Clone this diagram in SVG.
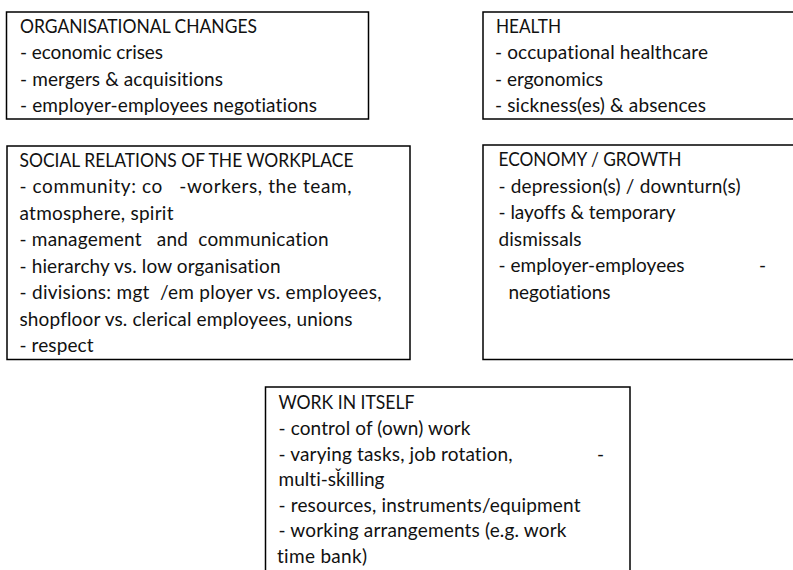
<svg xmlns="http://www.w3.org/2000/svg" width="793" height="570" viewBox="0 0 793 570">
  <style>
    .box { fill: #ffffff; stroke: #000000; stroke-width: 1.5; }
    text { font-family: Lato, "Liberation Sans", Arial, sans-serif; font-size: 19px; fill: #111111; white-space: pre; font-variant-ligatures: none; font-feature-settings: "liga" 0, "clig" 0; }
  </style>
  <rect x="0" y="0" width="793" height="570" fill="#ffffff"/>

  <!-- Organisational changes -->
  <g id="organisational-changes">
    <rect class="box" x="6.5" y="12" width="362" height="107"/>
    <text x="20" y="32.5" textLength="237" lengthAdjust="spacingAndGlyphs">ORGANISATIONAL CHANGES</text>
    <text x="20" y="59" textLength="143" lengthAdjust="spacing">- economic crises</text>
    <text x="20" y="85.5" textLength="203" lengthAdjust="spacing">- mergers &amp; acquisitions</text>
    <text x="20" y="112" textLength="297" lengthAdjust="spacing">- employer-employees negotiations</text>
  </g>

  <!-- Health -->
  <g id="health">
    <rect class="box" x="483" y="12" width="330" height="107"/>
    <text x="496" y="32.5" textLength="65" lengthAdjust="spacingAndGlyphs">HEALTH</text>
    <text x="495" y="59" textLength="213" lengthAdjust="spacing">- occupational healthcare</text>
    <text x="495" y="85.5" textLength="108" lengthAdjust="spacing">- ergonomics</text>
    <text x="495" y="112" textLength="211" lengthAdjust="spacing">- sickness(es) &amp; absences</text>
  </g>

  <!-- Social relations of the workplace -->
  <g id="social-relations">
    <rect class="box" x="7" y="146" width="403" height="213.5"/>
    <text x="19.5" y="166.5" textLength="334" lengthAdjust="spacingAndGlyphs">SOCIAL RELATIONS OF THE WORKPLACE</text>
    <text x="19.5" y="193" textLength="332" lengthAdjust="spacing">- community: co   -workers, the team,</text>
    <text x="19.5" y="219.5" textLength="154" lengthAdjust="spacing">atmosphere, spirit</text>
    <text x="19.5" y="246" textLength="309" lengthAdjust="spacing">- management   and  communication</text>
    <text x="19.5" y="272.5" textLength="261" lengthAdjust="spacing">- hierarchy vs. low organisation</text>
    <text x="19.5" y="299" textLength="362" lengthAdjust="spacing">- divisions: mgt  /em ployer vs. employees,</text>
    <text x="19.5" y="325.5" textLength="333" lengthAdjust="spacing">shopfloor vs. clerical employees, unions</text>
    <text x="19.5" y="352" textLength="74" lengthAdjust="spacing">- respect</text>
  </g>

  <!-- Economy / growth -->
  <g id="economy-growth">
    <rect class="box" x="483" y="145" width="330" height="214.5"/>
    <text x="498.5" y="166" textLength="183" lengthAdjust="spacingAndGlyphs">ECONOMY / GROWTH</text>
    <text x="498.5" y="192.5" textLength="242" lengthAdjust="spacing">- depression(s) / downturn(s)</text>
    <text x="498.5" y="219" textLength="177" lengthAdjust="spacing">- layoffs &amp; temporary</text>
    <text x="498.5" y="245.5" textLength="83" lengthAdjust="spacing">dismissals</text>
    <text x="498.5" y="272" textLength="186" lengthAdjust="spacing">- employer-employees</text>
    <text x="759" y="272">-</text>
    <text x="508.5" y="298.5" textLength="102" lengthAdjust="spacing">negotiations</text>
  </g>

  <!-- Work in itself -->
  <g id="work-in-itself">
    <rect class="box" x="265.5" y="387" width="364.5" height="200"/>
    <text x="278.5" y="409" textLength="136" lengthAdjust="spacingAndGlyphs">WORK IN ITSELF</text>
    <text x="278.5" y="435" textLength="192" lengthAdjust="spacing">- control of (own) work</text>
    <text x="278.5" y="460.5" textLength="234" lengthAdjust="spacing">- varying tasks, job rotation,</text>
    <text x="597" y="460.5">-</text>
    <text x="278.5" y="486" textLength="106" lengthAdjust="spacing">multi-sǩilling</text>
    <text x="278.5" y="511.5" textLength="302" lengthAdjust="spacing">- resources, instruments/equipment</text>
    <text x="278.5" y="537" textLength="288" lengthAdjust="spacing">- working arrangements (e.g. work</text>
    <text x="277" y="562.5" textLength="90" lengthAdjust="spacing">time bank)</text>
  </g>
</svg>
